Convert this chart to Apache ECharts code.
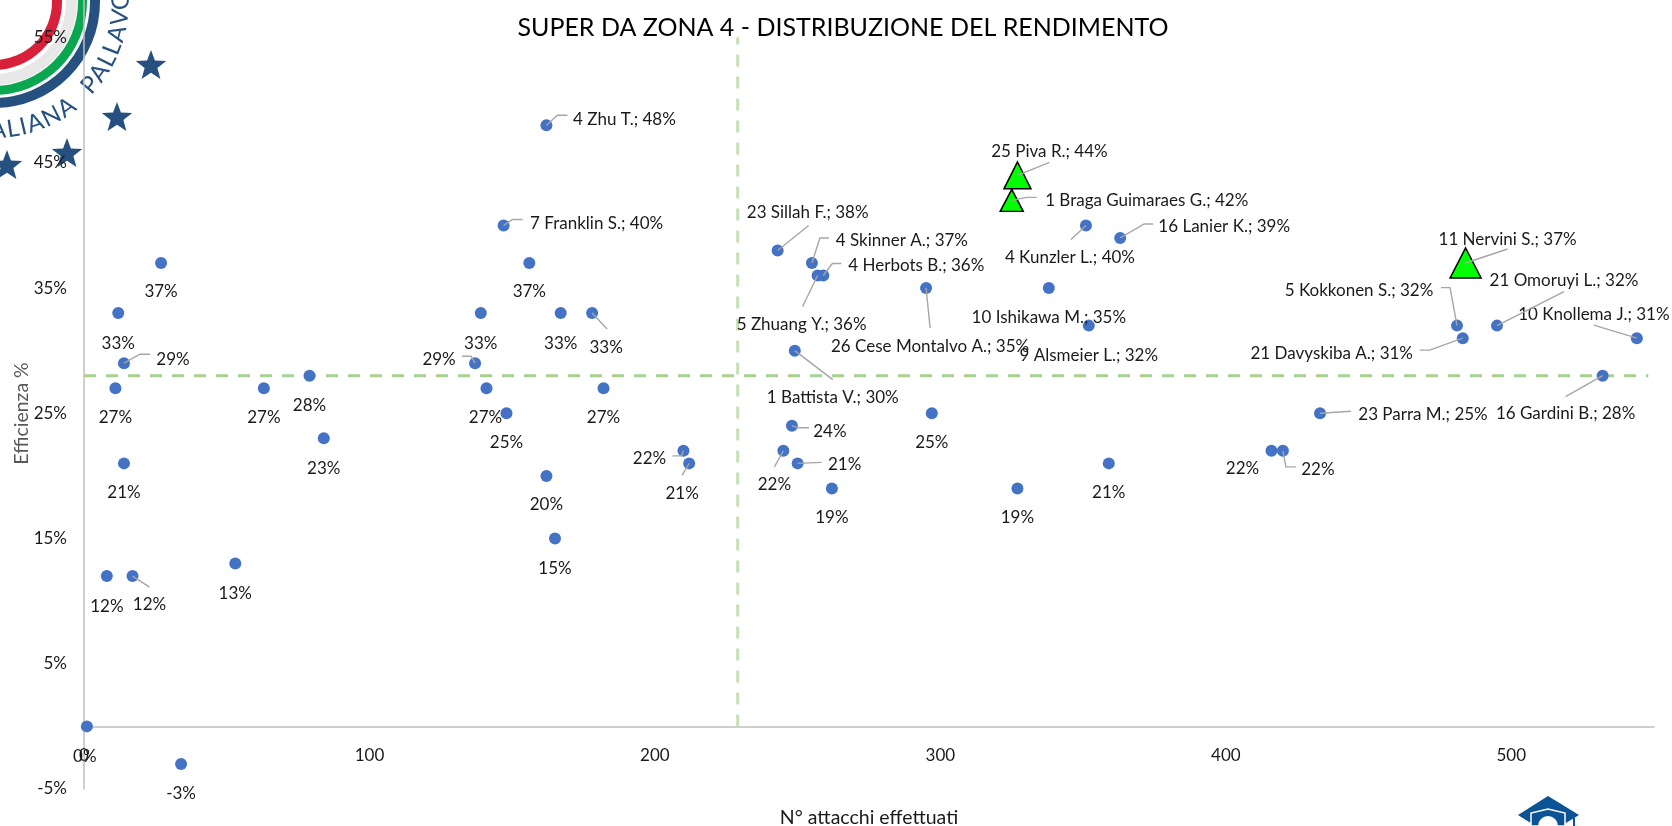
<!DOCTYPE html>
<html><head><meta charset="utf-8">
<style>html,body{margin:0;padding:0;background:#fff}#c{width:1672px;height:826px}</style>
<script src="https://cdn.jsdelivr.net/npm/echarts@6/dist/echarts.min.js"></script>
</head><body><div id="c"></div>
<script>
// ---- data ----
const chartTitle = 'SUPER DA ZONA 4 - DISTRIBUZIONE DEL RENDIMENTO';
const xName = 'N° attacchi effettuati';
const yName = 'Efficienza %';
const playerNames = ['', '', '', '', '', '', '', '', '', '', '', '', '', '', '', '', '',
  '7 Franklin S.', '4 Zhu T.', '', '', '', '', '', '', '',
  '23 Sillah F.', '4 Skinner A.', '5 Zhuang Y.', '4 Herbots B.', '26 Cese Montalvo A.', '1 Battista V.',
  '', '', '', '', '', '', '',
  '4 Kunzler L.', '16 Lanier K.', '10 Ishikawa M.', '9 Alsmeier L.',
  '5 Kokkonen S.', '21 Davyskiba A.', '21 Omoruyi L.', '10 Knollema J.', '16 Gardini B.', '23 Parra M.', '', '', ''];
const attacks = [1, 34, 53, 8, 17, 14, 11, 14, 12, 27, 63, 79, 84, 137, 139, 141, 148,
  147, 162, 156, 167, 178, 182, 162, 165, 210,
  243, 255, 257, 259, 295, 249,
  212, 248, 245, 250, 262, 297, 327,
  351, 363, 338, 352,
  481, 483, 495, 544, 532, 433, 416, 420, 359];
const efficiency = [0, -3, 13, 12, 12, 21, 27, 29, 33, 37, 27, 28, 23, 29, 33, 27, 25,
  40, 48, 37, 33, 33, 27, 20, 15, 22,
  38, 37, 36, 36, 35, 30,
  21, 24, 22, 21, 19, 25, 19,
  40, 39, 35, 32,
  32, 31, 32, 31, 28, 25, 22, 22, 21];
const topNames = ['25 Piva R.', '1 Braga Guimaraes G.', '11 Nervini S.'];
const topAttacks = [327, 325, 484];
const topEfficiency = [44, 42, 37];
const meanAttacks = 229;
const meanEfficiency = 28;
const verticalSpan = [0, 55];
const horizontalSpan = [0, 548];

// ---- label layout (pixel offset of label centre from point) ----
const B = [0, 29];
const labelOffsets = [[-2,29],B,B,B,[17,27],[0,28],[0,28],[49,-5],B,[0,28],[0,28],B,B,[-36,-5],B,[-1,28],[0,28],
  [93,-3],[78,-7],[0,28],B,[14,33],[0,28],[0,28],[0,29],[-34,7],
  [30,-39],[90,-23],[-16,48],[93,-11],[4,57],[38,46],
  [-7,29],[38,5],[-9,33],[47,0],[0,28],[0,28],[0,28],
  [-16,31],[104,-12],[0,28],[0,29],
  [-98,-36],[-131,14],[67,-46],[-43,-25],[-37,37],[103,0],[-29,17],[35,18],[0,28]];
const topOffsets = [[32,-25],[135,-1],[42,-24]];
const topSizes = [[27,27],[23,22],[31,30]];
// leader polylines: pixel bends relative to each point, keyed by point index
const leaderBends = {
  4: [[17,11]], 7: [[16,-9],[26,-9]], 13: [[-4,-7],[-13,-7]], 17: [[9,-6],[19,-6]], 18: [[11,-10],[21,-10]],
  21: [[15,16]], 25: [[-2,5],[-11,5]], 26: [[31,-25]], 27: [[8,-25],[17,-25]], 28: [[-15,31]],
  29: [[9,-12],[18,-12]], 30: [[4,40]], 31: [[38,29]], 32: [[-7,12]], 33: [[7,2],[17,2]],
  34: [[-9,16]], 35: [[24,-1]], 39: [[-15,14]], 40: [[24,-14],[33,-14]], 43: [[-7,-38],[-16,-38]],
  44: [[-33,12],[-43,12]], 45: [[67,-34]], 46: [[-43,-13]], 47: [[-37,21]], 48: [[31,-2]], 50: [[3,16],[13,16]]
};
const topLeaderBends = [[[32,-13]], [[15,-3],[25,-3]], [[42,-14]]];

const FONT = 'Lato, "Open Sans", sans-serif';
const fmtPct = v => v + '%';

function star(cx, cy, r) {
  const pts = [];
  for (let i = 0; i < 10; i++) {
    const rad = i % 2 ? r * 0.42 : r;
    const a = -Math.PI / 2 + i * Math.PI / 5;
    pts.push([cx + rad * Math.cos(a), cy + rad * Math.sin(a)]);
  }
  return pts;
}
const NAVY = '#25507f';
const logo = [];
[[106, 96, NAVY], [93, 84, '#0aa650'], [83, 72, '#e8e8e8'], [68, 58, '#d9203a']].forEach(r => {
  logo.push({type: 'ring', z: -1, shape: {cx: -6, cy: 2, r: r[0], r0: r[1]}, style: {fill: r[2]}});
});
[[151, 66], [117, 118], [67, 154], [7, 166]].forEach(s => {
  logo.push({type: 'polygon', z: -1, shape: {points: star(s[0], s[1], 16)}, style: {fill: NAVY}});
});
const letterAdvance = {A: 17, L: 13, I: 8, N: 18, P: 14, V: 16, O: 18};
function arcText(str, startDeg, R) {
  let along = 0;
  str.split('').forEach(ch => {
    const w = letterAdvance[ch];
    const th = (startDeg - (along + w / 2) / R * 180 / Math.PI) * Math.PI / 180;
    along += w;
    logo.push({type: 'text', z: -1, x: -6 + R * Math.cos(th), y: 2 + R * Math.sin(th),
      rotation: Math.PI / 2 - th,
      style: {text: ch, fill: NAVY, font: '24px ' + FONT, align: 'center', verticalAlign: 'middle'}});
  });
}
arcText('ALIANA', 92, 128);
arcText('PALLAVO', 44, 127);
// graduation cap, bottom right
logo.push({type: 'polygon', z: -1, shape: {points: [[1548, 796], [1579, 815], [1548, 834], [1518, 815]]}, style: {fill: '#0b5394'}});
logo.push({type: 'polygon', z: -1, shape: {points: [[1531, 826], [1531, 813], [1548, 809], [1565, 813], [1565, 826]]}, style: {fill: '#0b5394', stroke: '#fff', lineWidth: 1.5}});
logo.push({type: 'circle', z: -1, shape: {cx: 1548, cy: 826, r: 10}, style: {fill: '#fff'}});
logo.push({type: 'line', z: -1, shape: {x1: 1574, y1: 818, x2: 1574, y2: 826}, style: {stroke: '#0b5394', lineWidth: 2}});

const labelStyle = {show: true, position: 'inside', color: '#1a1a1a', fontFamily: FONT, fontSize: 17};
const dashH = {color: '#a9d18e', width: 3, type: [12, 10]};
const dashV = {color: '#c5e0b4', width: 3, type: [12, 10]};

// leader rows: [x, y, bendsIndex]
const bendSets = [];
const leaderRows = [];
attacks.forEach((a, i) => {
  if (leaderBends[i]) { bendSets.push(leaderBends[i]); leaderRows.push([a, efficiency[i], bendSets.length - 1]); }
});
topAttacks.forEach((a, i) => { bendSets.push(topLeaderBends[i]); leaderRows.push([a, topEfficiency[i], bendSets.length - 1]); });

const chart = echarts.init(document.getElementById('c'));
chart.setOption({
  animation: false,
  backgroundColor: '#fff',
  title: {text: chartTitle, left: 838, top: 10, textAlign: 'center',
    textStyle: {fontFamily: FONT, fontSize: 25, fontWeight: 'normal', color: '#000'}},
  graphic: logo,
  grid: {left: 84, right: 18, top: 0, bottom: 37, containLabel: false, outerBoundsMode: 'none'},
  xAxis: {type: 'value', min: 0, max: 550, interval: 100, splitLine: {show: false},
    axisTick: {show: false}, axisLine: {lineStyle: {color: '#bfbfbf', width: 1.5}},
    axisLabel: {showMaxLabel: false, margin: -42, color: '#1a1a1a', fontFamily: FONT, fontSize: 17},
    name: xName, nameLocation: 'middle', nameGap: 19,
    nameTextStyle: {color: '#1a1a1a', fontFamily: FONT, fontSize: 19.5}},
  yAxis: {type: 'value', min: -5, max: 58, interval: 10, splitLine: {show: false},
    axisTick: {show: false}, axisLine: {lineStyle: {color: '#bfbfbf', width: 1.5}},
    axisLabel: {showMaxLabel: false, margin: 17, formatter: '{value}%', color: '#1a1a1a', fontFamily: FONT, fontSize: 17, padding: [5, 0, 0, 0]},
    name: yName, nameLocation: 'middle', nameGap: 52, nameRotate: 90, nameMoveOverlap: false,
    nameTextStyle: {color: '#595959', fontFamily: FONT, fontSize: 19.5, padding: [0, 38, 0, 0]}},
  series: [
    {type: 'line', silent: true, symbol: 'none', lineStyle: dashV, z: 1,
      data: [[meanAttacks, verticalSpan[0]], [meanAttacks, verticalSpan[1]]]},
    {type: 'line', silent: true, symbol: 'none', lineStyle: dashH, z: 1,
      data: [[horizontalSpan[0], meanEfficiency], [horizontalSpan[1], meanEfficiency]]},
    {type: 'scatter', symbol: 'circle', symbolSize: 12, itemStyle: {color: '#4472c4', opacity: 1}, z: 3,
      data: attacks.map((a, i) => ({value: [a, efficiency[i]], name: playerNames[i]})),
      label: Object.assign({}, labelStyle, {formatter: p => (p.name ? p.name + '; ' : '') + fmtPct(p.value[1])}),
      labelLayout: p => ({dx: labelOffsets[p.dataIndex][0], dy: labelOffsets[p.dataIndex][1] + 1})},
    {type: 'scatter', symbol: 'triangle',
      itemStyle: {color: '#00ff00', borderColor: '#000', borderWidth: 1.5, opacity: 1}, z: 4,
      symbolSize: (v, p) => topSizes[p.dataIndex],
      data: topAttacks.map((a, i) => ({value: [a, topEfficiency[i]], name: topNames[i]})),
      label: Object.assign({}, labelStyle, {formatter: p => p.name + '; ' + fmtPct(p.value[1])}),
      labelLayout: p => ({dx: topOffsets[p.dataIndex][0], dy: topOffsets[p.dataIndex][1] + 1})},
    {type: 'custom', silent: true, z: 5, clip: false, data: leaderRows,
      encode: {x: 0, y: 1},
      renderItem: (params, api) => {
        const c = api.coord([api.value(0), api.value(1)]);
        const bends = bendSets[api.value(2)];
        return {type: 'polyline',
          shape: {points: [c].concat(bends.map(b => [c[0] + b[0], c[1] + b[1]]))},
          style: {stroke: '#a6a6a6', lineWidth: 1.4, fill: 'none'}};
      }}
  ]
});
</script></body></html>
